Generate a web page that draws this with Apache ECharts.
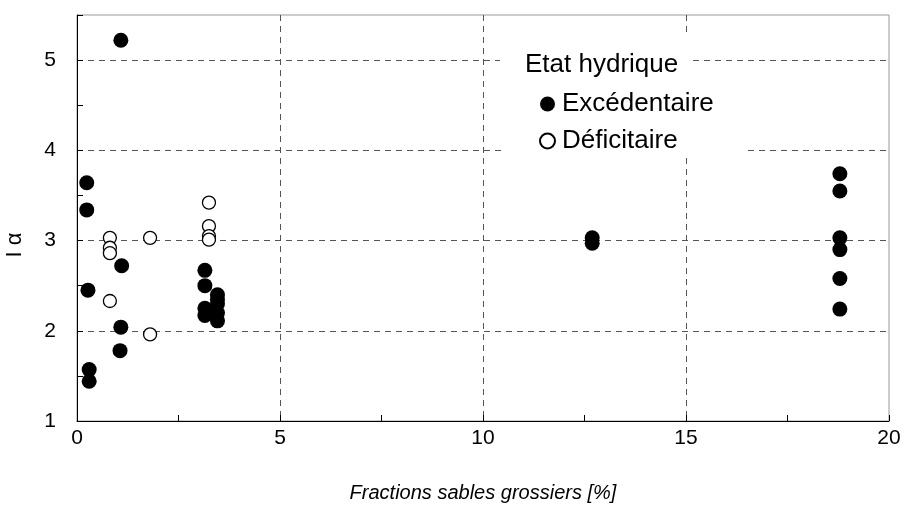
<!DOCTYPE html>
<html>
<head>
<meta charset="utf-8">
<script src="https://cdn.jsdelivr.net/npm/echarts@6/dist/echarts.min.js"></script>
<style>
  html, body { margin: 0; padding: 0; background: #fff; }
  #chart { width: 907px; height: 512px; }
</style>
</head>
<body>
<div id="chart"></div>
<script>
// Coarse sand fraction (%) vs. I alpha, split by water status
const excedentaireX = [1.08, 0.24, 0.24, 1.10, 0.27, 1.08, 1.06, 0.30, 0.30,
  3.15, 3.15, 3.15, 3.15, 3.46, 3.46, 3.46, 3.46, 3.46,
  12.69, 12.69,
  18.79, 18.79, 18.79, 18.79, 18.79, 18.79];
const excedentaireY = [5.22, 3.64, 3.34, 2.72, 2.45, 2.04, 1.78, 1.57, 1.44,
  2.67, 2.50, 2.25, 2.17, 2.40, 2.35, 2.30, 2.20, 2.11,
  3.03, 2.97,
  3.74, 3.55, 3.03, 2.90, 2.58, 2.24];

const deficitaireX = [0.81, 0.81, 0.81, 0.81, 1.80, 1.80, 3.25, 3.25, 3.25, 3.25];
const deficitaireY = [3.03, 2.92, 2.86, 2.33, 3.03, 1.96, 3.42, 3.16, 3.05, 3.01];

const seriesNames = ['Excédentaire', 'Déficitaire'];
const legendTitle = 'Etat hydrique';
const xAxisTitle = 'Fractions sables grossiers [%]';
const yAxisTitle = 'I α';

const pairs = (xs, ys) => xs.map((x, i) => [x, ys[i]]);

const FONT = '"Liberation Sans", Arial, sans-serif';
const gridDash = { color: '#555', width: 1, type: [6, 5] };

const chart = echarts.init(document.getElementById('chart'), null, { renderer: 'canvas' });

chart.setOption({
  animation: false,
  backgroundColor: '#fff',
  textStyle: { fontFamily: FONT, color: '#000' },
  grid: {
    left: 77, right: 18, top: 15, bottom: 91,
    show: true, borderColor: '#999', borderWidth: 1, backgroundColor: 'transparent'
  },
  xAxis: [
    {
      type: 'value', min: 0, max: 20, interval: 2.5, position: 'bottom',
      axisLine: { show: true, lineStyle: { color: '#000', width: 1 } },
      axisTick: { show: true, inside: true, length: 6, lineStyle: { color: '#000' } },
      axisLabel: {
        margin: 7, fontSize: 21, color: '#000', fontFamily: FONT,
        formatter: v => (v % 5 === 0 ? String(v) : '')
      },
      splitLine: { show: false },
      name: xAxisTitle, nameLocation: 'middle', nameGap: 62,
      nameTextStyle: { fontSize: 20, fontStyle: 'italic', color: '#000', fontFamily: FONT }
    },
    {
      type: 'value', min: 0, max: 20, interval: 5, position: 'bottom',
      axisLine: { show: false }, axisTick: { show: false }, axisLabel: { show: false },
      splitLine: { show: true, showMinLine: false, showMaxLine: false, lineStyle: gridDash }
    }
  ],
  yAxis: [
    {
      type: 'value', min: 1, max: 5.5, interval: 0.5, position: 'left',
      axisLine: { show: true, lineStyle: { color: '#000', width: 1 } },
      axisTick: { show: true, inside: true, length: 6, lineStyle: { color: '#000' } },
      axisLabel: {
        margin: 21, fontSize: 21, color: '#000', fontFamily: FONT,
        formatter: v => (Number.isInteger(v) ? String(v) : '')
      },
      splitLine: { show: false }
    },
    {
      type: 'value', min: 1, max: 5.5, interval: 1, position: 'left',
      axisLine: { show: false }, axisTick: { show: false }, axisLabel: { show: false },
      splitLine: { show: true, showMinLine: false, showMaxLine: false, lineStyle: gridDash }
    }
  ],
  legend: {
    orient: 'vertical', left: 534, top: 86, itemGap: 11,
    itemWidth: 15, itemHeight: 15, z: 6,
    data: [
      { name: seriesNames[0], icon: 'circle' },
      { name: seriesNames[1], icon: 'circle' }
    ],
    textStyle: { fontSize: 26, color: '#000', fontFamily: FONT, padding: [0, 0, 0, 2] },
    selectedMode: false
  },
  graphic: [
    { type: 'rect', z: 3, silent: true, shape: { x: 500, y: 37, width: 190, height: 50 }, style: { fill: '#fff' } },
    { type: 'rect', z: 3, silent: true, shape: { x: 502, y: 80, width: 244, height: 77 }, style: { fill: '#fff' } },
    {
      type: 'text', z: 7, silent: true, left: 525, top: 52,
      style: { text: legendTitle, fontSize: 26, fontFamily: FONT, fill: '#000' }
    },
    {
      // rotated y-axis title
      type: 'text', z: 7, silent: true, x: 15, y: 245, rotation: Math.PI / 2,
      style: {
        text: yAxisTitle, fontSize: 22, fontFamily: FONT, fill: '#000',
        align: 'center', verticalAlign: 'middle'
      }
    }
  ],
  series: [
    {
      name: seriesNames[0], type: 'scatter', xAxisIndex: 0, yAxisIndex: 0,
      symbol: 'circle', symbolSize: 15,
      itemStyle: { color: '#000', borderColor: '#000', borderWidth: 0, opacity: 1 },
      data: pairs(excedentaireX, excedentaireY)
    },
    {
      name: seriesNames[1], type: 'scatter', xAxisIndex: 0, yAxisIndex: 0,
      symbol: 'circle', symbolSize: 13,
      itemStyle: { color: '#fff', borderColor: '#000', borderWidth: 1.3, opacity: 1 },
      data: pairs(deficitaireX, deficitaireY)
    }
  ]
});
</script>
</body>
</html>
